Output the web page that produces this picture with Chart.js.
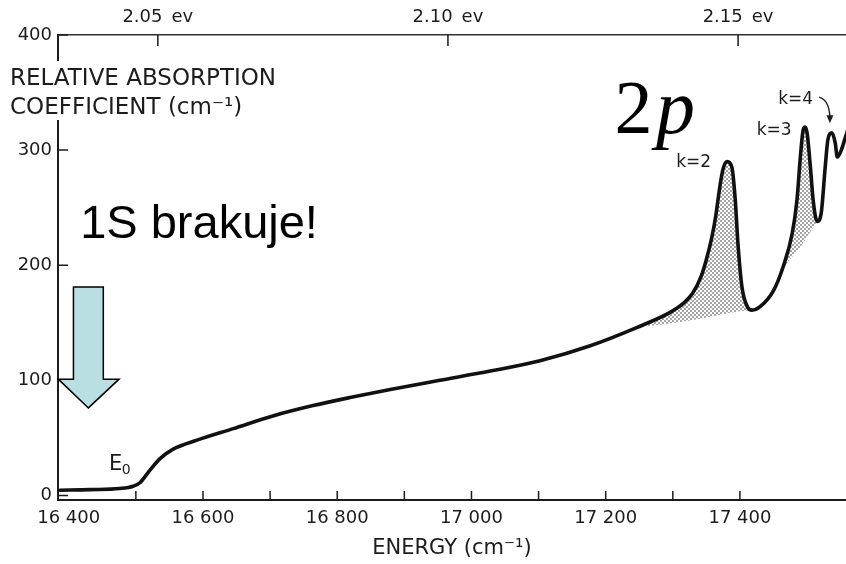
<!DOCTYPE html>
<html>
<head>
<meta charset="utf-8">
<title>Relative absorption coefficient</title>
<script src="https://cdn.jsdelivr.net/npm/chart.js@4.4.1/dist/chart.umd.min.js"></script>
<style>
  html, body { margin: 0; padding: 0; background: #fff; }
  #chart { display: block; }
</style>
</head>
<body>
<canvas id="chart" width="846" height="564"></canvas>
<script>
// absorption spectrum, energy in cm^-1
const curveEnergy = [
  16387, 16432, 16476, 16496, 16506, 16521, 16536, 16555, 16591, 16645,
  16704, 16764, 16819, 16879, 16953, 17028, 17102, 17177, 17247, 17296,
  17316, 17330, 17342, 17350, 17358, 17364, 17370, 17375, 17381, 17388,
  17393, 17397, 17403, 17411, 17418, 17430, 17450, 17464, 17478, 17485,
  17490, 17494, 17497, 17500, 17505, 17509, 17515, 17521, 17527, 17531,
  17537, 17542, 17545, 17551, 17557, 17563
];
const curveAbsorption = [
  4.5, 5, 6, 8, 11, 22, 32, 40, 48, 58,
  69, 78, 85, 92, 100, 108, 117, 130, 146, 159,
  167, 176, 190, 205, 224, 243, 268, 284, 290, 285,
  257, 219, 181, 164, 161, 164, 178, 198, 228, 257,
  294, 317, 320, 315, 285, 257, 238, 245, 285, 309,
  315, 306, 294, 300, 311, 322
];

// continuum under the exciton lines (lower edge of the shading)
const continuumEnergy = [17247, 17326, 17400, 17418, 17430, 17450, 17464, 17490, 17515];
const continuumAbsorption = [146, 152, 160, 161, 164, 178, 196, 216, 238];

const energyTicks = [16400, 16600, 16800, 17000, 17200, 17400];
const energyMinorTicks = [16500, 16600, 16700, 16800, 16900, 17000, 17100, 17200, 17300, 17400];
const absorptionTicks = [0, 100, 200, 300, 400];
const evTicks = [2.05, 2.10, 2.15];

const FONT = "'DejaVu Sans', sans-serif";
const INK = "#1c1c1c";

const toPoints = (xs, ys) => xs.map((x, i) => ({ x, y: ys[i] }));

function stipple() {
  const tile = document.createElement("canvas");
  tile.width = 4;
  tile.height = 4;
  const c = tile.getContext("2d");
  c.fillStyle = "#a4a4a4";
  c.fillRect(0, 0, 2, 2);
  c.fillRect(2, 2, 2, 2);
  return c.createPattern(tile, "repeat");
}
const dots = stipple();

const figureMarks = {
  id: "figureMarks",
  afterDraw(chart) {
    const { ctx, chartArea, scales } = chart;
    const x = scales.x, y = scales.y, ev = scales.ev;
    const at = (xv, yv) => [x.getPixelForValue(xv), y.getPixelForValue(yv)];

    ctx.save();
    ctx.strokeStyle = INK;
    ctx.lineWidth = 1.5;

    // inward tick marks
    ctx.beginPath();
    energyMinorTicks.forEach(v => {
      const px = x.getPixelForValue(v);
      ctx.moveTo(px, chartArea.bottom);
      ctx.lineTo(px, chartArea.bottom - 9);
    });
    absorptionTicks.forEach(v => {
      const py = y.getPixelForValue(v);
      ctx.moveTo(chartArea.left, py);
      ctx.lineTo(chartArea.left + 10, py);
    });
    evTicks.forEach(v => {
      const px = ev.getPixelForValue(v);
      ctx.moveTo(px, chartArea.top);
      ctx.lineTo(px, chartArea.top + 11);
    });
    ctx.stroke();

    // y axis title sits over the axis line
    ctx.font = `23px ${FONT}`;
    const line1 = "RELATIVE ABSORPTION";
    const line2 = "COEFFICIENT (cm\u207B\u00B9)";
    const w = Math.max(ctx.measureText(line1).width, ctx.measureText(line2).width);
    ctx.fillStyle = "#fff";
    ctx.fillRect(0, 61, 10 + w + 4, 59);
    ctx.fillStyle = INK;
    ctx.textBaseline = "alphabetic";
    ctx.textAlign = "left";
    ctx.fillText(line1, 10, 85);
    ctx.fillText(line2, 10, 114);

    // E0 onset label
    let [px, py] = at(16460, 22);
    ctx.font = `21px ${FONT}`;
    ctx.fillText("E", px, py);
    [px, py] = at(16479, 18.5);
    ctx.font = `14px ${FONT}`;
    ctx.fillText("0", px, py);

    // exciton line labels
    ctx.font = `17px ${FONT}`;
    [px, py] = at(17305, 285);
    ctx.fillText("k=2", px, py);
    [px, py] = at(17425, 313);
    ctx.fillText("k=3", px, py);
    [px, py] = at(17457, 340);
    ctx.fillText("k=4", px, py);

    // curved pointer from k=4 to its peak
    const [sx, sy] = at(17518, 346);
    const [cx, cy] = at(17533, 343.5);
    const [ex, ey] = at(17534, 325);
    ctx.lineWidth = 1.4;
    ctx.beginPath();
    ctx.moveTo(sx, sy);
    ctx.quadraticCurveTo(cx, cy, ex, ey - 4);
    ctx.stroke();
    ctx.beginPath();
    ctx.moveTo(ex, ey + 2);
    ctx.lineTo(ex - 3.5, ey - 6);
    ctx.lineTo(ex + 3.5, ey - 6);
    ctx.closePath();
    ctx.fill();

    // 2p series label
    ctx.fillStyle = "#000";
    ctx.font = `76px 'Liberation Serif', serif`;
    [px, py] = at(17213, 315);
    ctx.fillText("2", px, py);
    ctx.font = `italic 78px 'Liberation Serif', serif`;
    [px, py] = at(17275, 315);
    ctx.fillText("p", px, py);

    // note about the missing 1S line
    ctx.font = `47px 'Liberation Sans', Arial, sans-serif`;
    [px, py] = at(16417, 223.5);
    ctx.fillText("1S brakuje!", px, py);

    // block arrow pointing down to where 1S should be
    const [l, top] = at(16407, 181);
    const [r, base] = at(16451.5, 101);
    const [hl] = at(16384.4, 0);
    const [hr] = at(16475, 0);
    const [tipX, tipY] = at(16429.3, 76);
    ctx.beginPath();
    ctx.moveTo(l, top);
    ctx.lineTo(r, top);
    ctx.lineTo(r, base);
    ctx.lineTo(hr, base);
    ctx.lineTo(tipX, tipY);
    ctx.lineTo(hl, base);
    ctx.lineTo(l, base);
    ctx.closePath();
    ctx.fillStyle = "#b9dfe3";
    ctx.fill();
    ctx.strokeStyle = "#000";
    ctx.lineWidth = 1.5;
    ctx.stroke();

    ctx.restore();
  }
};

new Chart(document.getElementById("chart"), {
  type: "line",
  data: {
    datasets: [
      {
        label: "Absorption",
        data: toPoints(curveEnergy, curveAbsorption),
        borderColor: "#111",
        borderWidth: 3.6,
        borderCapStyle: "round",
        borderJoinStyle: "round",
        cubicInterpolationMode: "monotone",
        pointRadius: 0,
        fill: false
      },
      {
        label: "Continuum",
        data: toPoints(continuumEnergy, continuumAbsorption),
        borderWidth: 0,
        borderColor: "rgba(0,0,0,0)",
        backgroundColor: dots,
        cubicInterpolationMode: "monotone",
        pointRadius: 0,
        fill: { target: 0, above: dots, below: dots }
      }
    ]
  },
  options: {
    responsive: false,
    animation: false,
    layout: { padding: 0 },
    plugins: {
      legend: { display: false },
      tooltip: { enabled: false }
    },
    scales: {
      x: {
        type: "linear",
        position: "bottom",
        min: 16384,
        max: 17558,
        afterBuildTicks: s => { s.ticks = energyTicks.map(value => ({ value })); },
        afterFit: s => { s.height = 64; },
        grid: { display: false, drawTicks: false },
        border: { display: true, color: INK, width: 2 },
        ticks: {
          padding: 8,
          color: INK,
          maxRotation: 0,
          font: { family: FONT, size: 18 },
          callback: v => `${Math.floor(v / 1000)} ${String(v % 1000).padStart(3, "0")}`
        },
        title: {
          display: true,
          text: "ENERGY (cm\u207B\u00B9)",
          color: INK,
          font: { family: FONT, size: 21 },
          padding: { top: 0, bottom: 3 }
        }
      },
      ev: {
        type: "linear",
        position: "top",
        min: 2.0328,
        max: 2.1686,
        afterBuildTicks: s => { s.ticks = evTicks.map(value => ({ value })); },
        afterFit: s => { s.height = 35; },
        grid: { display: false, drawTicks: false },
        border: { display: true, color: "#333", width: 1.5 },
        ticks: {
          padding: 7,
          color: INK,
          maxRotation: 0,
          font: { family: FONT, size: 18 },
          callback: v => `${v.toFixed(2)}\u2002ev`
        }
      },
      y: {
        type: "linear",
        min: -4,
        max: 400,
        afterBuildTicks: s => { s.ticks = absorptionTicks.map(value => ({ value })); },
        afterFit: s => { s.width = 58; },
        grid: { display: false, drawTicks: false },
        border: { display: true, color: INK, width: 2 },
        ticks: {
          padding: 6,
          color: INK,
          font: { family: FONT, size: 18 }
        }
      }
    }
  },
  plugins: [figureMarks]
});
</script>
</body>
</html>
